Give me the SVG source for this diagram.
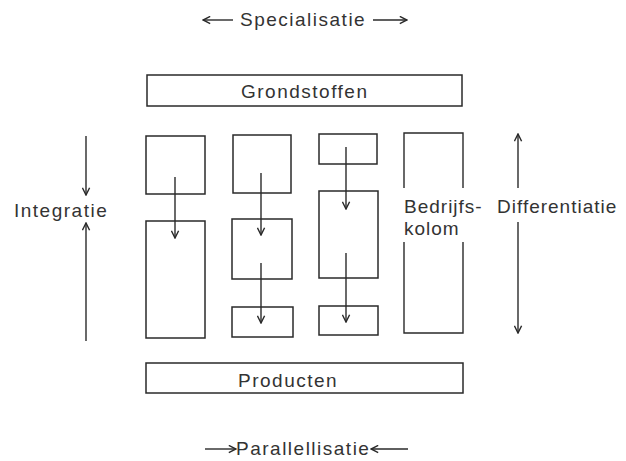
<svg xmlns="http://www.w3.org/2000/svg" width="626" height="461" viewBox="0 0 626 461">
  <defs>
    <marker id="head" viewBox="0 0 10 10" refX="9" refY="5" markerWidth="9" markerHeight="9" markerUnits="userSpaceOnUse" orient="auto">
      <path d="M1,1 L9,5 L1,9" fill="none" stroke="#2a2a2a" stroke-width="1.6"/>
    </marker>
  </defs>
  <style>
    .box { fill: #fff; stroke: #2a2a2a; stroke-width: 1.5; }
    .edge { fill: none; stroke: #2a2a2a; stroke-width: 1.4; }
    .arr { fill: none; stroke: #2a2a2a; stroke-width: 1.4; marker-end: url(#head); }
    text { font-family: "Liberation Sans", Arial, sans-serif; font-size: 19px; letter-spacing: 1.5px; fill: #333; }
    .tight { letter-spacing: 1px; }
  </style>
  <rect width="626" height="461" fill="#fff"/>

  <!-- axis labels -->
  <g id="specialisatie">
    <line class="arr" x1="233" y1="20" x2="203" y2="20"/>
    <text x="240" y="26">Specialisatie</text>
    <line class="arr" x1="373" y1="20" x2="407" y2="20"/>
  </g>
  <g id="integratie">
    <line class="arr" x1="86" y1="136" x2="86" y2="195"/>
    <text x="14" y="217">Integratie</text>
    <line class="arr" x1="86" y1="341" x2="86" y2="223"/>
  </g>
  <g id="differentiatie">
    <line class="arr" x1="518" y1="188" x2="518" y2="134"/>
    <text class="tight" x="497" y="213">Differentiatie</text>
    <line class="arr" x1="518" y1="222" x2="518" y2="333"/>
  </g>
  <g id="parallellisatie">
    <line class="arr" x1="205" y1="449" x2="236" y2="449"/>
    <text x="236" y="455">Parallellisatie</text>
    <line class="arr" x1="408" y1="449" x2="371" y2="449"/>
  </g>

  <!-- raw materials and products -->
  <g id="grondstoffen">
    <rect class="box" x="147" y="75" width="315" height="31"/>
    <text x="241" y="98">Grondstoffen</text>
  </g>
  <g id="producten">
    <rect class="box" x="146" y="363" width="317" height="30"/>
    <text x="238" y="387">Producten</text>
  </g>

  <!-- column 1 -->
  <g id="k1a"><rect class="box" x="146" y="136" width="59" height="58"/></g>
  <g id="k1b"><rect class="box" x="146" y="221" width="59" height="117"/></g>
  <!-- column 2 -->
  <g id="k2a"><rect class="box" x="233" y="135" width="58" height="58"/></g>
  <g id="k2b"><rect class="box" x="232" y="219" width="60" height="60"/></g>
  <g id="k2c"><rect class="box" x="232" y="307" width="61" height="30"/></g>
  <!-- column 3 -->
  <g id="k3a"><rect class="box" x="319" y="134" width="58" height="30"/></g>
  <g id="k3b"><rect class="box" x="319" y="191" width="59" height="87"/></g>
  <g id="k3c"><rect class="box" x="319" y="306" width="59" height="29"/></g>
  <!-- column 4: open-sided label column -->
  <g id="bedrijfskolom">
    <path class="edge" d="M404,188 V133 H463 V188 M404,242 V333 H463 V242"/>
    <text class="tight" x="404" y="213">Bedrijfs-</text>
    <text class="tight" x="404" y="235">kolom</text>
  </g>

  <!-- flow between stages -->
  <g id="connectors">
    <line class="arr" x1="175" y1="177" x2="175" y2="238"/>
    <line class="arr" x1="261" y1="173" x2="261" y2="235"/>
    <line class="arr" x1="261" y1="263" x2="261" y2="323"/>
    <line class="arr" x1="346" y1="147" x2="346" y2="209"/>
    <line class="arr" x1="346" y1="253" x2="346" y2="322"/>
  </g>
</svg>
